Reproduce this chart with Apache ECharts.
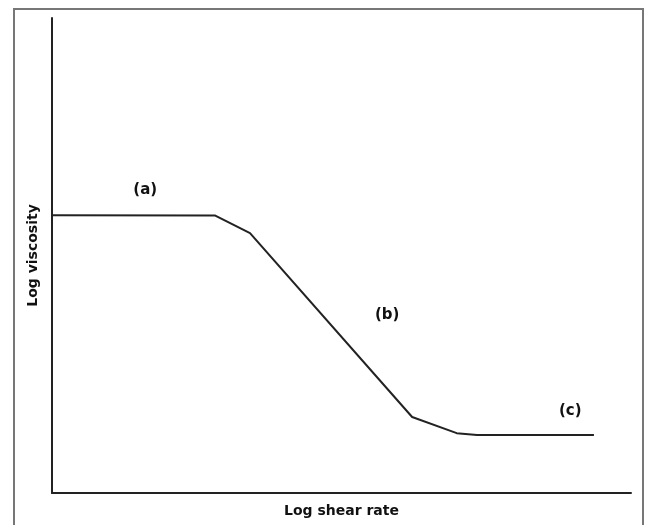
<!DOCTYPE html>
<html><head><meta charset="utf-8">
<script src="https://cdn.jsdelivr.net/npm/echarts@6/dist/echarts.min.js"></script>
<style>html,body{margin:0;padding:0;background:#fff}#c{width:648px;height:525px}</style>
</head><body><div id="c"></div>
<script>
// Curve (relative log shear rate, relative log viscosity), 0-100 scale
const curveX = [0, 28.2, 34.2, 62.2, 69.9, 73.4, 93.6];
const curveY = [58.5, 58.4, 54.7, 16.0, 12.6, 12.2, 12.2];
// Region annotations
const regionNames = ['(a)', '(b)', '(c)'];
const regionX = [16.1, 57.9, 89.5];
const regionY = [63.8, 37.5, 17.3];
const xTitle = 'Log shear rate';
const yTitle = 'Log viscosity';

const chart = echarts.init(document.getElementById('c'));
chart.setOption({
  animation: false,
  backgroundColor: '#fff',
  grid: {left: 52, right: 17, top: 18, bottom: 32},
  graphic: [{
    type: 'rect', shape: {x: 14, y: 9, width: 629, height: 530},
    style: {fill: 'none', stroke: '#777', lineWidth: 2}, silent: true, z: -1
  }],
  xAxis: {
    type: 'value', min: 0, max: 100,
    name: xTitle, nameLocation: 'middle', nameGap: 11,
    nameTextStyle: {fontFamily: 'DejaVu Sans', fontSize: 14, fontWeight: 'bold', color: '#111'},
    axisLine: {lineStyle: {color: '#222', width: 2}},
    axisTick: {show: false}, axisLabel: {show: false}, splitLine: {show: false}
  },
  yAxis: {
    type: 'value', min: 0, max: 100,
    name: yTitle, nameLocation: 'middle', nameGap: 12,
    nameTextStyle: {fontFamily: 'DejaVu Sans', fontSize: 14, fontWeight: 'bold', color: '#111'},
    axisLine: {show: true, lineStyle: {color: '#222', width: 2}},
    axisTick: {show: false}, axisLabel: {show: false}, splitLine: {show: false}
  },
  series: [{
    type: 'line',
    data: curveX.map((x, i) => [x, curveY[i]]),
    showSymbol: false, symbol: 'none',
    lineStyle: {color: '#222', width: 2}
  }, {
    type: 'scatter',
    data: regionX.map((x, i) => [x, regionY[i], regionNames[i]]),
    symbolSize: 0,
    itemStyle: {opacity: 1},
    label: {show: true, position: 'inside', formatter: p => p.data[2], opacity: 1,
      fontFamily: 'DejaVu Sans', fontSize: 15, fontWeight: 'bold', color: '#111'}
  }]
});
</script></body></html>
